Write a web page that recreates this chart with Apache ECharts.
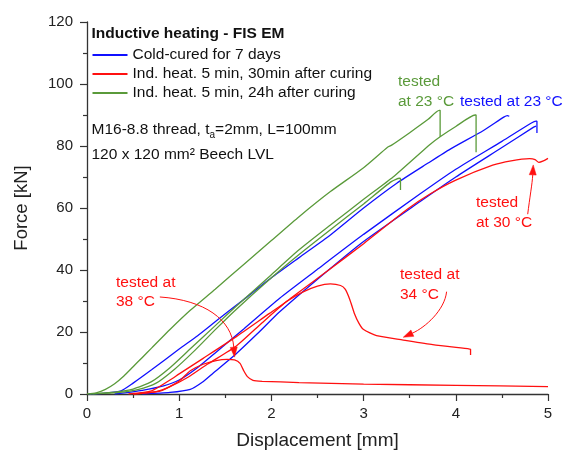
<!DOCTYPE html>
<html>
<head>
<meta charset="utf-8">
<script src="https://cdn.jsdelivr.net/npm/echarts@6/dist/echarts.min.js"></script>
<style>
html,body{margin:0;padding:0;background:#fff;}
#c{width:565px;height:452px;}
</style>
</head>
<body>
<div id="c"></div>
<script>
// ---- data ----
const xTickLabels = ['0','1','2','3','4','5'];
const yTickLabels = ['0','20','40','60','80','100','120'];
const legendNames = ['Cold-cured for 7 days','Ind. heat. 5 min, 30min after curing','Ind. heat. 5 min, 24h after curing'];

const blue1 = [[0.02,0],[0.2,0.3],[0.37,1],[0.5,3.5],[0.7,7.8],[1.0,14.5],[1.2,18.8],[1.39,23.3],[1.7,30.5],[2.0,37.5],[2.3,44],[2.64,51.3],[3.0,60],[3.36,68],[3.7,74.5],[3.94,79],[4.3,85],[4.52,89.3],[4.56,89.8],[4.58,89.6]];
const blue2 = [[0.3,0],[0.6,1.2],[0.83,2.6],[1.0,4.5],[1.19,8.3],[1.4,13.5],[1.7,21],[2.09,30.9],[2.49,40],[3.0,51.5],[3.61,64.5],[4.0,72.5],[4.5,81.5],[4.82,87.4],[4.87,88],[4.88,88],[4.88,84.2]];
const blue3 = [[0.6,0],[0.9,0.5],[1.12,1.5],[1.25,3.8],[1.37,6.8],[1.6,12.5],[1.85,19.5],[2.09,26.5],[2.6,39.5],[3.0,49.2],[3.61,62],[4.0,70],[4.5,79.5],[4.84,86],[4.87,86.4]];
const red30 = [[0.5,0],[0.75,0.8],[0.9,2.4],[1.1,5.5],[1.3,9.5],[1.62,15.5],[1.9,23],[2.17,30],[2.6,39.5],[3.0,48.5],[3.47,59.5],[3.72,64.5],[4.0,69],[4.4,73.8],[4.6,75.2],[4.8,75.9],[4.86,75.6],[4.9,74.7],[4.95,75.2],[5.0,76]];
const red34 = [[0.45,0],[0.7,1],[0.9,4.5],[1.0,6.5],[1.26,11.5],[1.62,18.5],[1.98,26],[2.2,30.5],[2.35,33],[2.5,34.8],[2.64,35.5],[2.75,35],[2.8,33.8],[2.85,30.5],[2.9,26],[2.95,22.8],[3.0,20.8],[3.14,18.8],[3.43,17.4],[3.75,15.9],[4.15,14.5],[4.16,14.4],[4.16,12.6]];
const red38 = [[0.5,0],[0.8,1],[1.0,4.2],[1.12,7.5],[1.26,9.6],[1.4,10.8],[1.52,11.2],[1.6,11],[1.66,9.9],[1.7,7.5],[1.74,5.6],[1.8,4.4],[1.9,4.1],[2.3,3.7],[3.0,3.2],[4.0,2.8],[5.0,2.4]];
const green1 = [[0.0,0],[0.1,0.4],[0.2,1.5],[0.3,3.3],[0.4,5.8],[0.5,8.8],[0.6,11.8],[0.7,14.8],[0.9,20.8],[1.12,27],[1.39,33.8],[1.7,41.8],[2.0,49.5],[2.3,57.2],[2.64,65.3],[3.0,73],[3.26,79.6],[3.30,80.2],[3.5,84.3],[3.7,88.6],[3.82,91.5],[3.83,91.5],[3.83,83]];
const green2 = [[0.03,0],[0.3,0.6],[0.5,1.6],[0.7,4],[0.9,8.5],[1.1,14],[1.4,22.3],[1.6,27.8],[2.0,38.5],[2.3,46.5],[2.64,54.5],[3.0,62.8],[3.32,70],[3.72,80.5],[3.83,83],[4.0,86.3],[4.21,90],[4.22,90],[4.22,78]];
const green3 = [[0.06,0],[0.35,0.5],[0.55,1.4],[0.75,3.5],[0.95,8],[1.15,13.5],[1.4,21],[1.6,26.8],[2.0,37.5],[2.3,45],[2.64,53],[3.0,61.3],[3.3,68.5],[3.39,69.6],[3.40,69.4],[3.40,65.8]];

// ---- styling ----
const FONT = 'Liberation Sans, Arial, Helvetica, sans-serif';
const BLUE = '#1010ff', RED = '#ff1010', GREEN = '#5a9a3a';

function mk(name, data, color) {
  return {
    type: 'line', name: name, data: data, showSymbol: false, symbol: 'none',
    smooth: 0.2, animation: false,
    lineStyle: { color: color, width: 1.3 }, itemStyle: { color: color },
    emphasis: { disabled: true }
  };
}

const chart = echarts.init(document.getElementById('c'), null, { renderer: 'canvas' });

const option = {
  animation: false,
  backgroundColor: '#ffffff',
  textStyle: { fontFamily: FONT },
  grid: { left: 87, right: 17, top: 22, bottom: 58, containLabel: false, outerBoundsMode: 'none' },
  legend: {
    data: legendNames,
    orient: 'vertical',
    left: 91.5, top: 47, padding: 0,
    itemWidth: 35, itemHeight: 14, itemGap: 3,
    itemStyle: { opacity: 0 },
    textStyle: { fontFamily: FONT, fontSize: 15.5, color: '#111', lineHeight: 14 },
    selectedMode: false
  },
  xAxis: {
    type: 'value', min: 0, max: 5, interval: 1,
    name: 'Displacement [mm]', nameLocation: 'middle', nameGap: 37,
    nameTextStyle: { fontFamily: FONT, fontSize: 19, color: '#222' },
    axisLine: { show: true, lineStyle: { color: '#333', width: 1.3 } },
    axisTick: { show: true, inside: false, length: 7, lineStyle: { color: '#333', width: 1.2 } },
    minorTick: { show: true, splitNumber: 2, length: 4, lineStyle: { color: '#333', width: 1.2 } },
    splitLine: { show: false },
    axisLabel: { fontFamily: FONT, fontSize: 15, color: '#222', margin: 12,
      formatter: v => xTickLabels[Math.round(v)] },
  },
  yAxis: {
    type: 'value', min: 0, max: 120, interval: 20,
    name: 'Force [kN]', nameLocation: 'middle', nameGap: 56,
    nameTextStyle: { fontFamily: FONT, fontSize: 18.5, color: '#222' },
    axisLine: { show: true, lineStyle: { color: '#333', width: 1.3 } },
    axisTick: { show: true, inside: false, length: 7, lineStyle: { color: '#333', width: 1.2 } },
    minorTick: { show: true, splitNumber: 2, length: 4, lineStyle: { color: '#333', width: 1.2 } },
    splitLine: { show: false },
    axisLabel: { fontFamily: FONT, fontSize: 15, color: '#222', margin: 14,
      formatter: v => yTickLabels[Math.round(v / 20)] },
  },
  series: [
    mk(legendNames[0], blue1, BLUE),
    mk(legendNames[0], blue2, BLUE),
    mk(legendNames[0], blue3, BLUE),
    mk(legendNames[1], red30, RED),
    mk(legendNames[1], red34, RED),
    mk(legendNames[1], red38, RED),
    mk(legendNames[2], green1, GREEN),
    mk(legendNames[2], green2, GREEN),
    mk(legendNames[2], green3, GREEN)
  ]
};
chart.setOption(option);

// ---- annotations ----
function P(p) { return chart.convertToPixel({ gridIndex: 0 }, p); }
function txt(x, y, s, color, extra) {
  return Object.assign({
    type: 'text', x: x, y: y, silent: true, z: 100,
    style: Object.assign({ text: s, fill: color, font: '15.5px ' + FONT, textVerticalAlign: 'middle', textAlign: 'left' }, extra || {})
  });
}
function arrow(p0, c1, c2, p1, color) {
  const a = P(p0), b = P(c1), c = P(c2), d = P(p1);
  let dx = d[0] - c[0], dy = d[1] - c[1];
  const len = Math.sqrt(dx * dx + dy * dy) || 1;
  dx /= len; dy /= len;
  const L = 10, W = 3.5;
  const base = [d[0] - dx * L, d[1] - dy * L];
  const nx = -dy, ny = dx;
  return [
    { type: 'bezierCurve', silent: true, z: 100,
      shape: { x1: a[0], y1: a[1], cpx1: b[0], cpy1: b[1], cpx2: c[0], cpy2: c[1], x2: base[0], y2: base[1] },
      style: { stroke: color, lineWidth: 1, fill: null } },
    { type: 'polygon', silent: true, z: 100,
      shape: { points: [[d[0], d[1]], [base[0] + nx * W, base[1] + ny * W], [base[0] - nx * W, base[1] - ny * W]] },
      style: { fill: color, stroke: color, lineWidth: 0.5 } }
  ];
}

const g = [];
g.push(txt(91.5, 34, 'Inductive heating - FIS EM', '#111', { font: 'bold 15.5px ' + FONT }));
g.push({
  type: 'text', x: 91.5, y: 130, silent: true, z: 100,
  style: {
    text: 'M16-8.8 thread, t{sub|a}=2mm, L=100mm', fill: '#111', font: '15.5px ' + FONT,
    textVerticalAlign: 'middle',
    rich: { sub: { fontSize: 10, fontFamily: FONT, fill: '#111', padding: [10, 0, 0, 0] } }
  }
});
g.push(txt(91.5, 155, '120 x 120 mm² Beech LVL', '#111'));
g.push(txt(398, 81.5, 'tested', GREEN));
g.push(txt(398, 101.5, 'at 23 °C', GREEN));
g.push(txt(460, 101.5, 'tested at 23 °C', BLUE));
g.push(txt(116, 283, 'tested at', RED));
g.push(txt(116, 302, '38 °C', RED));
g.push(txt(400, 275, 'tested at', RED));
g.push(txt(400, 295, '34 °C', RED));
g.push(txt(476, 203, 'tested', RED));
g.push(txt(476, 223, 'at 30 °C', RED));
arrow([0.79, 31.3], [1.28, 30.3], [1.57, 23.9], [1.60, 11.9], RED).forEach(e => g.push(e));
arrow([3.90, 33.0], [3.88, 27.1], [3.67, 21.5], [3.43, 18.3], RED).forEach(e => g.push(e));
arrow([4.78, 58.0], [4.80, 63.0], [4.83, 68.0], [4.84, 73.9], RED).forEach(e => g.push(e));
chart.setOption({ graphic: { elements: g } });
</script>
</body>
</html>
